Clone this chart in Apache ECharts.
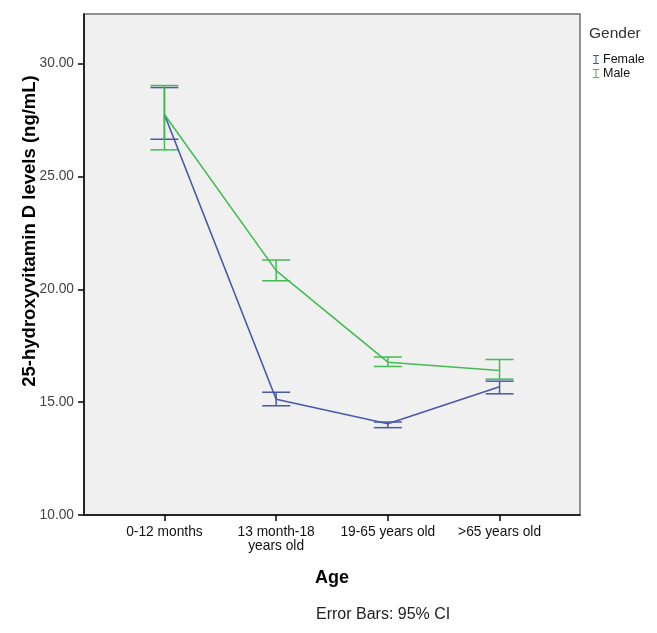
<!DOCTYPE html>
<html>
<head>
<meta charset="utf-8">
<script src="https://cdn.jsdelivr.net/npm/echarts@6/dist/echarts.min.js"></script>
<style>html,body{margin:0;padding:0;background:#fff;}#c{width:657px;height:633px;}</style>
</head>
<body>
<div id="c"></div>
<script>
const categories = ['0-12 months', '13 month-18\nyears old', '19-65 years old', '>65 years old'];
const yTicks = [10, 15, 20, 25, 30];
const femaleMean = [27.75, 15.13, 14.04, 15.68];
const femaleLow  = [26.65, 14.84, 13.87, 15.37];
const femaleHigh = [28.94, 15.44, 14.12, 15.93];
const maleMean = [27.75, 20.83, 16.77, 16.40];
const maleLow  = [26.18, 20.38, 16.58, 16.02];
const maleHigh = [29.03, 21.30, 17.00, 16.89];

const BLUE = '#4659ad';
const GREEN = '#43bd52';
const FONT = '"Liberation Sans", Arial, sans-serif';

function errData(low, high) {
  return categories.map((c, i) => [i, low[i], high[i]]);
}
function errSeries(name, color, low, high) {
  return {
    type: 'custom',
    name: name + ' CI',
    data: errData(low, high),
    z: 3,
    renderItem: function (params, api) {
      const x = api.value(0);
      const lo = api.coord([x, api.value(1)]);
      const hi = api.coord([x, api.value(2)]);
      const hw = 14;
      const st = { stroke: color, lineWidth: 1.5 };
      return {
        type: 'group',
        children: [
          { type: 'line', shape: { x1: lo[0], y1: lo[1], x2: hi[0], y2: hi[1] }, style: st },
          { type: 'line', shape: { x1: lo[0] - hw, y1: lo[1], x2: lo[0] + hw, y2: lo[1] }, style: st },
          { type: 'line', shape: { x1: hi[0] - hw, y1: hi[1], x2: hi[0] + hw, y2: hi[1] }, style: st }
        ]
      };
    },
    silent: true,
    animation: false
  };
}

const ibeam = 'path://M0,0H10V1.8H5.9V13.2H10V15H0V13.2H4.1V1.8H0Z';

const chart = echarts.init(document.getElementById('c'), null, { renderer: 'canvas' });
chart.setOption({
  animation: false,
  backgroundColor: '#ffffff',
  textStyle: { fontFamily: FONT },
  grid: {
    left: 84, top: 14, width: 496, height: 501,
    show: true, backgroundColor: '#f0f0f0', borderColor: '#707070', borderWidth: 1.5
  },
  legend: {
    orient: 'vertical',
    left: 588, top: 48,
    itemWidth: 6, itemHeight: 10, itemGap: 1,
    icon: ibeam,
    data: [
      { name: 'Female', icon: ibeam, itemStyle: { color: BLUE } },
      { name: 'Male', icon: ibeam, itemStyle: { color: GREEN } }
    ],
    textStyle: { fontFamily: FONT, fontSize: 12.5, color: '#111', padding: [0, 0, 0, -1] }
  },
  graphic: [
    { type: 'text', left: 589, top: 26, style: { text: 'Gender', font: '15.5px ' + FONT, fill: '#333' } },
    { type: 'text', left: 316, top: 607, style: { text: 'Error Bars: 95% CI', font: '16px ' + FONT, fill: '#222' } },
    { type: 'text', x: 30, y: 231, rotation: Math.PI / 2,
      style: { text: '25-hydroxyvitamin D levels (ng/mL)', font: 'bold 18.5px ' + FONT, fill: '#000',
               align: 'center', verticalAlign: 'middle' } }
  ],
  xAxis: {
    type: 'value',
    min: -0.72, max: 3.72,
    splitLine: { show: false },
    axisLine: { show: true, onZero: false, lineStyle: { color: '#000', width: 1.5 } },
    axisTick: { show: true, customValues: [0, 1, 2, 3], length: 6, lineStyle: { color: '#000', width: 1.5 } },
    axisLabel: {
      customValues: [0, 1, 2, 3],
      formatter: function (v) { return categories[Math.round(v)]; },
      fontSize: 13.75, color: '#111', margin: 10, lineHeight: 14, fontFamily: FONT
    },
    name: 'Age', nameLocation: 'middle', nameGap: 54,
    nameTextStyle: { fontSize: 18, fontWeight: 'bold', color: '#000', fontFamily: FONT }
  },
  yAxis: {
    type: 'value',
    min: 10, max: 32.2, interval: 5,
    splitLine: { show: false },
    axisLine: { show: true, onZero: false, lineStyle: { color: '#000', width: 1.5 } },
    axisTick: { show: true, customValues: yTicks, length: 6, lineStyle: { color: '#000', width: 1.5 } },
    axisLabel: {
      customValues: yTicks,
      formatter: function (v) { return v.toFixed(2); },
      fontSize: 13.75, color: '#444', margin: 10, fontFamily: FONT
    }
  },
  series: [
    errSeries('Female', BLUE, femaleLow, femaleHigh),
    errSeries('Male', GREEN, maleLow, maleHigh),
    {
      type: 'line', name: 'Female', z: 4,
      data: femaleMean.map((v, i) => [i, v]),
      showSymbol: false, symbol: 'none',
      lineStyle: { color: BLUE, width: 1.6 }, itemStyle: { color: BLUE }
    },
    {
      type: 'line', name: 'Male', z: 4,
      data: maleMean.map((v, i) => [i, v]),
      showSymbol: false, symbol: 'none',
      lineStyle: { color: GREEN, width: 1.6 }, itemStyle: { color: GREEN }
    }
  ]
});
</script>
</body>
</html>
